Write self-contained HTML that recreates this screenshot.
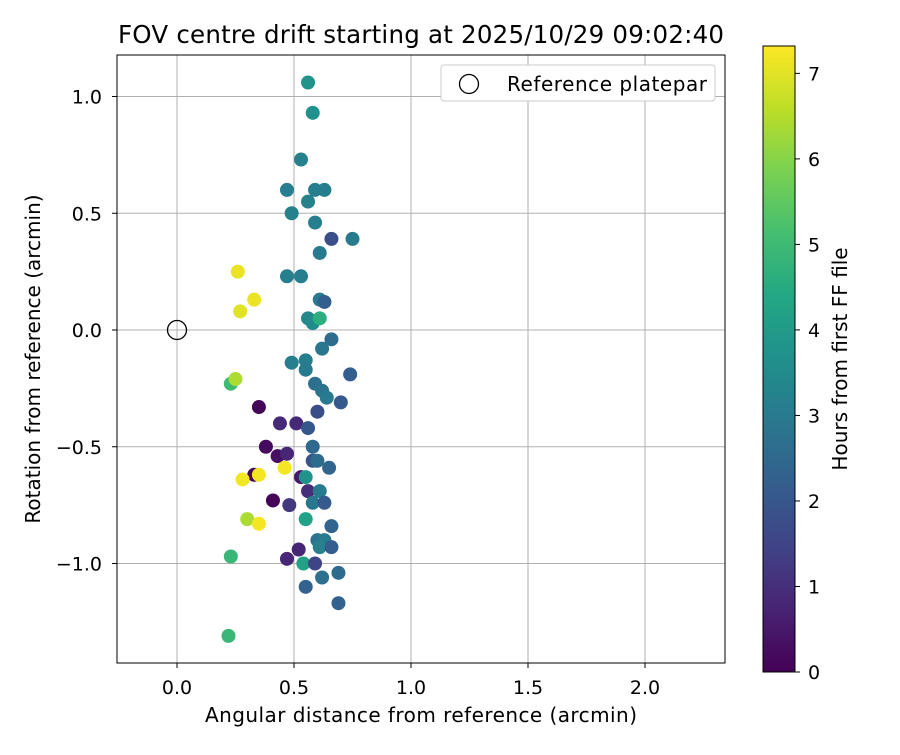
<!DOCTYPE html>
<html><head><meta charset="utf-8"><style>
body{margin:0;background:#fff;}
svg text{font-family:"DejaVu Sans","Liberation Sans",sans-serif;fill:#000;}
</style></head><body>
<svg id="chart" width="900" height="750" xmlns="http://www.w3.org/2000/svg">
<defs><linearGradient id="vir" x1="0" y1="1" x2="0" y2="0"></linearGradient></defs>
<text x="421" y="43" font-size="24.5" text-anchor="middle" textLength="606">FOV centre drift starting at 2025/10/29 09:02:40</text>
<g id="grid"></g>
<g id="ticks"></g>
<g id="pts"></g>
<rect x="117" y="55" width="608" height="608" fill="none" stroke="#000" stroke-width="1"/>
<text x="421" y="722" font-size="20" text-anchor="middle" textLength="432">Angular distance from reference (arcmin)</text>
<text transform="translate(40,359) rotate(-90)" font-size="20" text-anchor="middle">Rotation from reference (arcmin)</text>
<g>
<rect x="441" y="65" width="274" height="36" rx="3" fill="#fff" stroke="#ccc"/>
<circle cx="469" cy="84" r="9.5" fill="none" stroke="#000" stroke-width="1.3"/>
<text x="507" y="91" font-size="20" textLength="200">Reference platepar</text>
</g>
<rect x="763" y="46" width="32" height="626" fill="url(#vir)" stroke="#000"/>
<g id="cbt"></g>
<text transform="translate(847,359) rotate(-90)" font-size="20" text-anchor="middle">Hours from first FF file</text>
</svg>
<script>
const xTicks=[0.0,0.5,1.0,1.5,2.0];
const yTicks=[1.0,0.5,0.0,-0.5,-1.0];
const cbTicks=[0,1,2,3,4,5,6,7];
const xs=[.56,.58,.53,.47,.59,.63,.56,.49,.59,.66,.75,.61,.26,.47,.53,.33,.61,.63,.27,.56,.58,.61,.66,.62,.49,.55,.55,.74,.23,.25,.59,.62,.64,.70,.60,.35,.44,.51,.56,.38,.58,.43,.47,.58,.60,.65,.46,.33,.35,.28,.53,.55,.56,.61,.58,.63,.41,.48,.30,.35,.55,.66,.60,.63,.61,.66,.52,.47,.54,.59,.62,.69,.55,.69,.23,.22];
const ys=[1.06,.93,.73,.60,.60,.60,.55,.50,.46,.39,.39,.33,.25,.23,.23,.13,.13,.12,.08,.05,.03,.05,-.04,-.08,-.14,-.13,-.17,-.19,-.23,-.21,-.23,-.26,-.29,-.31,-.35,-.33,-.40,-.40,-.42,-.50,-.50,-.54,-.53,-.56,-.56,-.59,-.59,-.62,-.62,-.64,-.63,-.63,-.69,-.69,-.74,-.74,-.73,-.75,-.81,-.83,-.81,-.84,-.90,-.90,-.93,-.93,-.94,-.98,-1.00,-1.00,-1.06,-1.04,-1.10,-1.17,-.97,-1.31];
const hours=[3.8,3.7,3.2,3.1,3.1,3.1,3.2,3.2,3.1,1.8,3.0,3.0,7.1,3.1,3.1,7.1,3.0,2.2,7.0,3.4,3.5,4.6,2.6,2.9,3.1,3.1,3.0,2.2,5.0,6.4,2.7,2.8,3.0,2.1,1.8,0.1,0.9,0.9,2.0,0.2,2.5,0.3,0.8,1.9,2.6,2.4,7.2,0.1,7.2,7.2,0.5,3.8,1.0,3.0,2.9,2.1,0.1,1.2,6.4,7.2,4.2,2.4,2.8,3.0,3.2,2.2,0.8,0.8,4.2,1.5,2.7,2.6,2.3,2.3,4.9,4.9];
const X=v=>177+v*234, Y=v=>330-v*233.5, HMAX=7.32, C=v=>672-v/HMAX*626;
const V=[[68,1,84],[72,35,116],[64,67,135],[52,94,141],[41,120,142],[32,144,140],[34,167,132],[68,190,112],[121,209,81],[189,222,38],[253,231,37]];
function vir(t){t=Math.max(0,Math.min(1,t));const f=t*10,i=Math.min(9,Math.floor(f)),r=f-i;const a=V[i],b=V[i+1];return `rgb(${a.map((c,k)=>Math.round(c+(b[k]-c)*r)).join(',')})`;}
const NS="http://www.w3.org/2000/svg";
function mk(t,at,p){const e=document.createElementNS(NS,t);for(const k in at)e.setAttribute(k,at[k]);p.appendChild(e);return e;}
const g=document.getElementById('grid'),tk=document.getElementById('ticks'),pts=document.getElementById('pts'),cb=document.getElementById('cbt');
const gr=document.getElementById('vir');
V.forEach((c,i)=>{const s=mk('stop',{offset:(i/10),'stop-color':`rgb(${c.join(',')})`},gr);

});
const fmt=v=>(v<0?'\u2212':'')+Math.abs(v).toFixed(1);
xTicks.forEach(v=>{const l=mk('line',{x1:X(v),x2:X(v),y1:55,y2:663,stroke:'#b0b0b0','stroke-width':1},g);


mk('line',{x1:X(v),x2:X(v),y1:663,y2:668,stroke:'#000'},tk);
const t=mk('text',{x:X(v),y:694,'font-size':19,'text-anchor':'middle'},tk);t.textContent=v.toFixed(1);

});
yTicks.forEach(v=>{const l=mk('line',{x1:117,x2:725,y1:Y(v),y2:Y(v),stroke:'#b0b0b0','stroke-width':1},g);


mk('line',{x1:112,x2:117,y1:Y(v),y2:Y(v),stroke:'#000'},tk);
const t=mk('text',{x:102,y:Y(v)+7,'font-size':19,'text-anchor':'end'},tk);t.textContent=fmt(v);

});
xs.forEach((x,i)=>{const c=mk('circle',{cx:X(x),cy:Y(ys[i]),r:7,fill:vir(hours[i]/HMAX)},pts);

});
const ref=mk('circle',{cx:X(0),cy:Y(0),r:9.5,fill:'none',stroke:'#000','stroke-width':1.3},pts);


cbTicks.forEach(v=>{mk('line',{x1:795,x2:800,y1:C(v),y2:C(v),stroke:'#000'},cb);
const t=mk('text',{x:808,y:C(v)+7,'font-size':19},cb);t.textContent=v;

});
</script>
</body></html>
